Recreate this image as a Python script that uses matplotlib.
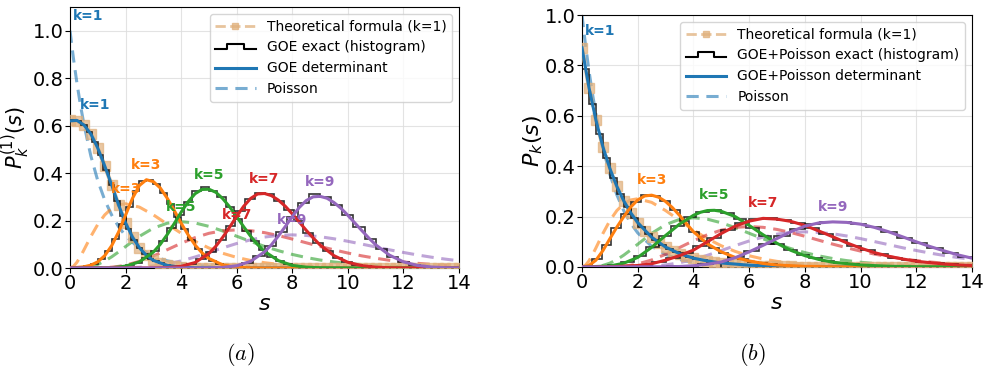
import numpy as np
import matplotlib
matplotlib.use("Agg")
import matplotlib.pyplot as plt
from matplotlib.lines import Line2D
from matplotlib.legend_handler import HandlerBase

# ---------------- data ----------------
K_LABELS = ["k=1", "k=3", "k=5", "k=7", "k=9"]
COLORS = ["#1f77b4", "#ff7f0e", "#2ca02c", "#d62728", "#9467bd"]
THEO_COLOR = "#e0b07c"

# Poisson k-th neighbour curves (shared by both panels)
POIS_S = [0, 0.125, 0.25, 0.375, 0.5, 0.75, 1.0, 1.25, 1.5, 1.75, 2.0, 2.5, 3.0, 3.5, 4.0,
          4.5, 5.0, 5.5, 6.0, 6.5, 7.0, 7.5, 8.0, 8.5, 9.0, 9.5, 10.0, 10.5, 11.0, 11.5,
          12.0, 12.5, 13.0, 13.5, 14.0]
POIS_K1 = [1.0, 0.8825, 0.7788, 0.6873, 0.6065, 0.4724, 0.3679, 0.2865, 0.2231, 0.1738, 0.1353,
           0.0821, 0.0498, 0.0302, 0.0183, 0.0111, 0.0067, 0.0041, 0.0025, 0.0015, 0.0009,
           0.0006, 0.0003, 0.0002, 0.0001, 0.0001, 0.0, 0.0, 0.0, 0.0, 0.0, 0.0, 0.0, 0.0, 0.0]
POIS_K3 = [0.0, 0.0069, 0.0243, 0.0483, 0.0758, 0.1329, 0.1839, 0.2238, 0.251, 0.2661, 0.2707,
           0.2565, 0.224, 0.185, 0.1465, 0.1125, 0.0842, 0.0619, 0.0446, 0.0318, 0.0223,
           0.0156, 0.0107, 0.0073, 0.005, 0.0034, 0.0023, 0.0015, 0.001, 0.0007, 0.0004,
           0.0003, 0.0002, 0.0001, 0.0001]
POIS_K5 = [0.0, 0.0, 0.0001, 0.0006, 0.0016, 0.0062, 0.0153, 0.0291, 0.0471, 0.0679, 0.0902,
           0.1336, 0.168, 0.1888, 0.1954, 0.1897, 0.1755, 0.1559, 0.1339, 0.1118, 0.0912,
           0.0729, 0.0572, 0.0442, 0.0336, 0.0254, 0.0189, 0.0139, 0.0102, 0.0074, 0.0053,
           0.0038, 0.0027, 0.0019, 0.0013]
POIS_K7 = [0.0, 0.0, 0.0, 0.0, 0.0, 0.0001, 0.0005, 0.0015, 0.0035, 0.0069, 0.012,
           0.0278, 0.0504, 0.0771, 0.1041, 0.128, 0.1462, 0.1572, 0.1606, 0.1574, 0.149,
           0.1367, 0.122, 0.1063, 0.0908, 0.0765, 0.0631, 0.0512, 0.0411, 0.0324, 0.0255,
           0.0198, 0.0152, 0.0115, 0.0087]
POIS_K9 = [0.0, 0.0, 0.0, 0.0, 0.0, 0.0, 0.0, 0.0, 0.0001, 0.0004, 0.0009,
           0.0031, 0.0081, 0.0169, 0.0298, 0.0463, 0.0653, 0.0849, 0.1033, 0.1188, 0.1304,
           0.1373, 0.1396, 0.1372, 0.1318, 0.1232, 0.1126, 0.1008, 0.0888, 0.0766, 0.0655,
           0.0551, 0.0457, 0.0375, 0.0304]

# Panel (a): GOE determinant curves
A_K1_S = [0, 0.25, 0.5, 0.75, 1.0, 1.25, 1.5, 1.75, 2.0, 2.25, 2.5, 2.75, 3.0, 3.5, 4.0, 4.5, 5.0, 6.0, 14.0]
A_K1_P = [0.62, 0.622, 0.603, 0.565, 0.505, 0.43, 0.35, 0.265, 0.19, 0.13, 0.085, 0.053, 0.032, 0.011,
          0.0035, 0.001, 0.0003, 0.0, 0.0]
A_K3_S = [0, 0.5, 0.75, 1.0, 1.25, 1.5, 1.75, 2.0, 2.25, 2.5, 2.75, 3.0, 3.25, 3.5, 3.75, 4.0, 4.25,
          4.5, 4.75, 5.0, 5.5, 6.0, 6.5, 7.0, 14.0]
A_K3_P = [0.0, 0.005, 0.012, 0.026, 0.052, 0.094, 0.152, 0.223, 0.294, 0.348, 0.372, 0.364, 0.337,
          0.294, 0.243, 0.189, 0.14, 0.097, 0.064, 0.04, 0.013, 0.0033, 0.0007, 0.0, 0.0]
A_K5_S = [0, 1.5, 2.0, 2.5, 3.0, 3.25, 3.5, 3.75, 4.0, 4.25, 4.5, 4.75, 5.0, 5.25, 5.5, 5.75, 6.0,
          6.25, 6.5, 6.75, 7.0, 7.5, 8.0, 8.5, 9.0, 10.0, 14.0]
A_K5_P = [0.0, 0.001, 0.008, 0.026, 0.067, 0.1, 0.141, 0.187, 0.235, 0.279, 0.313, 0.331, 0.332,
          0.319, 0.292, 0.257, 0.216, 0.174, 0.134, 0.099, 0.07, 0.031, 0.011, 0.0035, 0.001, 0.0, 0.0]
A_K7_S = [0, 3.0, 3.5, 4.0, 4.5, 5.0, 5.25, 5.5, 5.75, 6.0, 6.25, 6.5, 6.75, 7.0, 7.25, 7.5, 7.75,
          8.0, 8.25, 8.5, 8.75, 9.0, 9.5, 10.0, 10.5, 11.0, 11.5, 12.0, 14.0]
A_K7_P = [0.0, 0.0003, 0.0017, 0.007, 0.023, 0.061, 0.092, 0.13, 0.173, 0.218, 0.26, 0.293, 0.312,
          0.314, 0.305, 0.286, 0.26, 0.228, 0.194, 0.159, 0.127, 0.097, 0.052, 0.024, 0.01, 0.0036,
          0.0011, 0.0003, 0.0]
A_K9_S = [0, 4.5, 5.0, 5.5, 6.0, 6.5, 7.0, 7.25, 7.5, 7.75, 8.0, 8.25, 8.5, 8.75, 9.0, 9.25, 9.5,
          9.75, 10.0, 10.25, 10.5, 10.75, 11.0, 11.5, 12.0, 12.5, 13.0, 13.5, 14.0]
A_K9_P = [0.0, 0.0001, 0.0006, 0.0026, 0.0094, 0.028, 0.068, 0.098, 0.135, 0.175, 0.217, 0.255,
          0.284, 0.3, 0.302, 0.294, 0.276, 0.252, 0.222, 0.19, 0.158, 0.127, 0.098, 0.054, 0.026,
          0.011, 0.0042, 0.0014, 0.0004]

# Panel (b): GOE+Poisson determinant curves
B_K1_S = [0, 0.25, 0.5, 0.75, 1.0, 1.25, 1.5, 1.75, 2.0, 2.5, 3.0, 3.5, 4.0, 4.5, 5.0, 6.0, 7.0, 8.0, 10.0, 14.0]
B_K1_P = [0.87, 0.712, 0.583, 0.477, 0.391, 0.32, 0.262, 0.215, 0.176, 0.118, 0.079, 0.053, 0.035,
          0.024, 0.016, 0.0071, 0.0032, 0.0014, 0.0003, 0.0]
B_K3_S = [0, 0.25, 0.5, 0.75, 1.0, 1.25, 1.5, 1.75, 2.0, 2.25, 2.5, 2.75, 3.0, 3.25, 3.5, 3.75, 4.0,
          4.5, 5.0, 5.5, 6.0, 6.5, 7.0, 8.0, 9.0, 10.0, 14.0]
B_K3_P = [0.0, 0.006, 0.027, 0.065, 0.112, 0.158, 0.2, 0.238, 0.266, 0.282, 0.285, 0.277, 0.26,
          0.235, 0.205, 0.172, 0.14, 0.092, 0.06, 0.038, 0.024, 0.014, 0.008, 0.0025, 0.0008, 0.0002, 0.0]
B_K5_S = [0, 1.0, 1.5, 2.0, 2.5, 3.0, 3.5, 4.0, 4.25, 4.5, 4.75, 5.0, 5.5, 6.0, 6.5, 7.0, 7.5, 8.0,
          8.5, 9.0, 10.0, 11.0, 12.0, 14.0]
B_K5_P = [0.0, 0.004, 0.015, 0.038, 0.078, 0.125, 0.17, 0.205, 0.217, 0.224, 0.225, 0.221, 0.2,
          0.165, 0.128, 0.094, 0.066, 0.045, 0.03, 0.019, 0.008, 0.003, 0.001, 0.0]
B_K7_S = [0, 1.0, 2.0, 2.5, 3.0, 3.5, 4.0, 4.5, 5.0, 5.5, 6.0, 6.5, 7.0, 7.5, 8.0, 8.5, 9.0, 9.5,
          10.0, 10.5, 11.0, 11.5, 12.0, 12.5, 13.0, 13.5, 14.0]
B_K7_P = [0.0, 0.0005, 0.006, 0.013, 0.027, 0.045, 0.067, 0.1, 0.133, 0.162, 0.182, 0.193, 0.19,
          0.181, 0.165, 0.143, 0.12, 0.096, 0.075, 0.057, 0.043, 0.032, 0.023, 0.017, 0.012, 0.008, 0.006]
B_K9_S = [0, 3.0, 3.5, 4.0, 4.5, 5.0, 5.5, 6.0, 6.5, 7.0, 7.5, 8.0, 8.5, 9.0, 9.5, 10.0, 10.5, 11.0,
          11.5, 12.0, 12.5, 13.0, 13.5, 14.0]
B_K9_P = [0.0, 0.001, 0.002, 0.005, 0.011, 0.02, 0.037, 0.06, 0.086, 0.113, 0.14, 0.162, 0.175,
          0.179, 0.177, 0.17, 0.157, 0.14, 0.12, 0.1, 0.081, 0.064, 0.048, 0.035]

# Theoretical formula (k=1), sampled on a 0.25 grid from 0 to 14
THEO_S = np.linspace(0, 14, 57)
THEO_A = [0.622, 0.62, 0.603, 0.565, 0.505, 0.43, 0.35, 0.265, 0.19, 0.13, 0.085, 0.053, 0.032,
          0.02, 0.011, 0.0065, 0.0035, 0.002, 0.001, 0.0006, 0.0003] + [0.0] * 36
THEO_B = [0.87, 0.712, 0.583, 0.477, 0.391, 0.32, 0.262, 0.215, 0.176, 0.144, 0.118, 0.0965, 0.079,
          0.0647, 0.053, 0.0434, 0.0355, 0.029, 0.0238, 0.0195, 0.016, 0.013, 0.0107, 0.0088, 0.0072,
          0.0059, 0.0048, 0.004, 0.0032, 0.0026, 0.0022, 0.0018, 0.0014, 0.0012, 0.001, 0.0008,
          0.0006] + [0.0] * 20

# Histograms (exact sampling): first edge, bin width, heights
HA_START = [0.0, 0.5, 2.0, 3.5, 5.0]
HA_WIDTH = [0.2, 0.25, 0.3, 0.35, 0.4]
HA_K1 = [0.624, 0.618, 0.603, 0.575, 0.532, 0.475, 0.415, 0.35, 0.282, 0.22, 0.165, 0.12, 0.085,
         0.059, 0.04, 0.028, 0.019, 0.011, 0.007, 0.0045, 0.003, 0.002]
HA_K3 = [0.0074, 0.0174, 0.037, 0.07, 0.121, 0.186, 0.259, 0.324, 0.365, 0.372, 0.352, 0.317, 0.269,
         0.216, 0.164, 0.117, 0.08, 0.051, 0.031, 0.018, 0.0095, 0.0048]
HA_K5 = [0.0113, 0.0229, 0.0425, 0.073, 0.115, 0.168, 0.225, 0.278, 0.325, 0.34, 0.325, 0.298, 0.256,
         0.207, 0.157, 0.112, 0.075, 0.047, 0.028, 0.0155, 0.0081, 0.004, 0.0018, 0.0008]
HA_K7 = [0.0028, 0.0074, 0.0175, 0.037, 0.0695, 0.1175, 0.1775, 0.24, 0.29, 0.318, 0.312, 0.284,
         0.244, 0.197, 0.149, 0.106, 0.07, 0.0435, 0.0254, 0.0138, 0.0071, 0.0034, 0.0015, 0.0006,
         0.0002, 0.0001]
HA_K9 = [0.0011, 0.0034, 0.0094, 0.0229, 0.049, 0.092, 0.151, 0.217, 0.273, 0.31, 0.3, 0.267, 0.222,
         0.171, 0.121, 0.0786, 0.047, 0.026, 0.0133, 0.0062, 0.0027, 0.0011, 0.0004]

HB_START = [0.0, 0.0, 0.5, 1.5, 2.5]
HB_WIDTH = [0.25, 0.35, 0.45, 0.5, 0.55]
HB_K1 = [0.787, 0.645, 0.528, 0.432, 0.354, 0.29, 0.237, 0.194, 0.159, 0.13, 0.1066, 0.0873, 0.0714,
         0.0585, 0.0479, 0.0392, 0.0321, 0.0263, 0.0215, 0.0176]
HB_K3 = [0.004, 0.03, 0.088, 0.153, 0.212, 0.258, 0.285, 0.283, 0.262, 0.228, 0.182, 0.137, 0.104,
         0.077, 0.056, 0.041, 0.03, 0.021, 0.014, 0.01, 0.007, 0.005, 0.003, 0.002]
HB_K5 = [0.002, 0.008, 0.02, 0.044, 0.08, 0.123, 0.164, 0.197, 0.22, 0.228, 0.215, 0.19, 0.156, 0.123,
         0.093, 0.067, 0.048, 0.034, 0.022, 0.015, 0.011, 0.007, 0.005, 0.003]
HB_K7 = [0.004, 0.009, 0.019, 0.035, 0.055, 0.083, 0.117, 0.148, 0.173, 0.189, 0.196, 0.187, 0.174,
         0.155, 0.132, 0.108, 0.085, 0.066, 0.05, 0.037, 0.027, 0.02, 0.014, 0.01, 0.007]
HB_K9 = [0.001, 0.002, 0.004, 0.01, 0.02, 0.038, 0.064, 0.093, 0.123, 0.152, 0.17, 0.18, 0.178, 0.171,
         0.158, 0.139, 0.117, 0.095, 0.075, 0.057, 0.041]

POIS = [POIS_K1, POIS_K3, POIS_K5, POIS_K7, POIS_K9]
A_CURVES = [(A_K1_S, A_K1_P), (A_K3_S, A_K3_P), (A_K5_S, A_K5_P), (A_K7_S, A_K7_P), (A_K9_S, A_K9_P)]
B_CURVES = [(B_K1_S, B_K1_P), (B_K3_S, B_K3_P), (B_K5_S, B_K5_P), (B_K7_S, B_K7_P), (B_K9_S, B_K9_P)]
A_HISTS = [HA_K1, HA_K3, HA_K5, HA_K7, HA_K9]
B_HISTS = [HB_K1, HB_K3, HB_K5, HB_K7, HB_K9]


class StepHandler(HandlerBase):
    def create_artists(self, legend, orig_handle, xdescent, ydescent, width, height, fontsize, trans):
        fx = [0.0, 0.3, 0.3, 0.7, 0.7, 1.0]
        fy = [0.25, 0.25, 0.75, 0.75, 0.25, 0.25]
        line = Line2D([-xdescent + width * v for v in fx], [-ydescent + height * v for v in fy],
                      color="black", lw=1.5, transform=trans)
        return [line]


def draw_panel(ax, curves, hists, starts, widths, theo, ylim, ylabel, names, pois_labels,
               xlab_y, ylab_x, ylab_size):
    ax.grid(True, color="#dddddd", lw=0.8, alpha=0.8)
    ax.set_axisbelow(True)
    # Poisson dashed
    for c, p in zip(COLORS, POIS):
        ax.plot(POIS_S, p, ls=(0, (4, 2.5)), color=c, lw=2.2, alpha=0.6, zorder=2)
    # theoretical formula
    ax.plot(THEO_S, theo, ls="--", marker="s", ms=6.5, lw=3.0, color=THEO_COLOR, alpha=0.7, zorder=3)
    # histograms
    for h, st, w in zip(hists, starts, widths):
        edges = st + w * np.arange(len(h) + 1)
        ax.stairs(h, edges, color="black", lw=1.2, alpha=0.8, zorder=4)
    # determinant curves
    for (s, p), c in zip(curves, COLORS):
        ax.plot(s, p, color=c, lw=2.2, zorder=5)
    # labels
    for i, ((s, p), c, lab) in enumerate(zip(curves, COLORS, K_LABELS)):
        j = int(np.argmax(p))
        if i == 0:
            ax.text(s[j] + 0.1, p[j] + 0.065, lab, color=c, fontsize=10, fontweight="bold",
                    ha="left", va="center", zorder=6)
        else:
            ax.text(s[j], p[j] + 0.06, lab, color=c, fontsize=10, fontweight="bold",
                    ha="center", va="center", zorder=6)
    if pois_labels:
        for i, (p, c, lab) in enumerate(zip(POIS, COLORS, K_LABELS)):
            j = int(np.argmax(p))
            if i == 0:
                ax.text(POIS_S[j] + 0.1, p[j] + 0.063, lab, color=c, fontsize=10, fontweight="bold",
                        ha="left", va="center", zorder=6)
            else:
                ax.text(POIS_S[j], p[j] + 0.063, lab, color=c, fontsize=10, fontweight="bold",
                        ha="center", va="center", zorder=6)
    ax.set_xlim(0, 14)
    ax.set_ylim(*ylim)
    ax.set_xticks(range(0, 15, 2))
    ax.set_yticks([0.0, 0.2, 0.4, 0.6, 0.8, 1.0])
    ax.tick_params(labelsize=14, pad=1)
    ax.set_xlabel(r"$s$", fontsize=16)
    ax.set_ylabel(ylabel, fontsize=ylab_size)
    ax.xaxis.set_label_coords(0.5, xlab_y)
    ax.yaxis.set_label_coords(ylab_x, 0.5)
    for sp in ax.spines.values():
        sp.set_color("black")

    h_theo = Line2D([], [], ls="--", marker="s", ms=5, lw=2.0, color=THEO_COLOR, alpha=0.75)
    h_hist = Line2D([], [], color="black")
    h_det = Line2D([], [], color=COLORS[0], lw=2.2)
    h_pois = Line2D([], [], color=COLORS[0], lw=2.2, ls=(0, (4, 2.5)), alpha=0.6)
    ax.legend([h_theo, h_hist, h_det, h_pois], names, loc="upper right", fontsize=10,
              handlelength=2.9, handler_map={h_hist: StepHandler()}, framealpha=0.8)


fig = plt.figure(figsize=(9.85, 3.83), dpi=100)
axA = fig.add_axes([70 / 985, (383 - 268) / 383, 389 / 985, 261 / 383])
axB = fig.add_axes([582 / 985, (383 - 267) / 383, 390 / 985, 252 / 383])

draw_panel(axA, A_CURVES, A_HISTS, HA_START, HA_WIDTH, THEO_A, (0, 1.1), r"$P_k^{(1)}(s)$",
           ["Theoretical formula (k=1)", "GOE exact (histogram)", "GOE determinant", "Poisson"], True,
           -0.1, -0.097, 15)
draw_panel(axB, B_CURVES, B_HISTS, HB_START, HB_WIDTH, THEO_B, (0, 1.0), r"$P_k(s)$",
           ["Theoretical formula (k=1)", "GOE+Poisson exact (histogram)", "GOE+Poisson determinant",
            "Poisson"], False, -0.105, -0.095, 16)

fig.text(240 / 985, 1 - 355 / 383, r"$(a)$", fontsize=16, ha="center", va="center", math_fontfamily="cm")
fig.text(752 / 985, 1 - 355 / 383, r"$(b)$", fontsize=16, ha="center", va="center", math_fontfamily="cm")

fig.savefig("out.png", dpi=100)
